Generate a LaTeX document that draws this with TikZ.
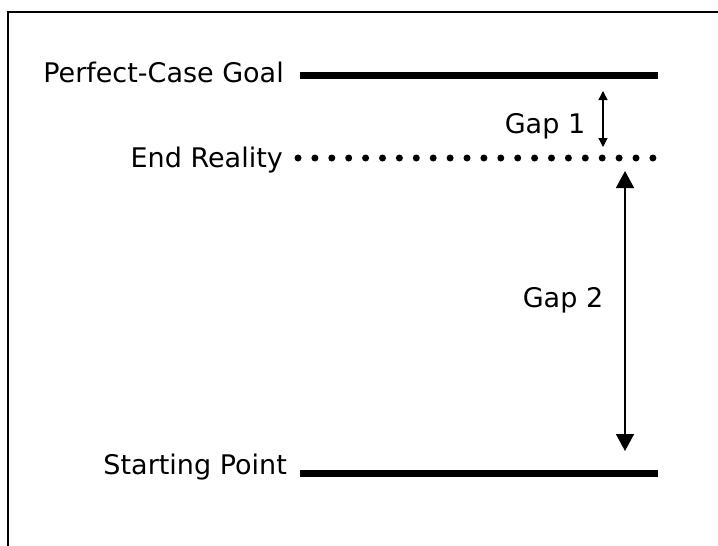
\documentclass[tikz,border=0pt]{standalone}
\usepackage{fontspec}
\setmainfont{DejaVu Sans}
\usetikzlibrary{arrows.meta}
\begin{document}
\begin{tikzpicture}[x=1pt,y=-1pt,
  lbl/.style={anchor=base east,inner sep=0pt,font=\fontsize{27}{30}\selectfont},
  gaplbl/.style={anchor=base,inner sep=0pt,font=\fontsize{27}{30}\selectfont},
  level/.style={line width=7pt},
  dotted level/.style={line width=7pt,line cap=round,dash pattern=on 0pt off 16.9pt},
  small gap/.style={line width=1.3pt,{Triangle[width=9pt,length=9pt]}-{Triangle[width=9pt,length=9pt]}},
  big gap/.style={line width=1.5pt,{Triangle[width=18pt,length=17pt]}-{Triangle[width=18pt,length=17pt]}}]
  \useasboundingbox (0,0) rectangle (718,546);
  % frame
  \begin{scope}
    \clip (0,0) rectangle (718,546);
    \draw[line width=1.5pt] (8,12) rectangle (740,570);
  \end{scope}
  % level labels
  \node[lbl] (goal) at (284,82) {Perfect-Case Goal};
  \node[lbl] (real) at (283,167) {End Reality};
  \node[lbl] (start) at (287,474) {Starting Point};
  % level lines
  \coordinate (g1) at (300,75);  \coordinate (g2) at (658,75);
  \coordinate (r1) at (298,158); \coordinate (r2) at (653,158);
  \coordinate (s1) at (300,473); \coordinate (s2) at (658,473);
  \draw[level] (g1) -- (g2);
  \draw[dotted level] (r1) -- (r2);
  \draw[level] (s1) -- (s2);
  % gap arrows
  \coordinate (a1) at (603,91);  \coordinate (a2) at (603,147);
  \coordinate (b1) at (625,171); \coordinate (b2) at (625,451);
  \draw[small gap] (a1) -- (a2);
  \draw[big gap] (b1) -- (b2);
  \node[gaplbl] (gap1) at (545,133) {Gap 1};
  \node[gaplbl] (gap2) at (563,307) {Gap 2};
\end{tikzpicture}
\end{document}
